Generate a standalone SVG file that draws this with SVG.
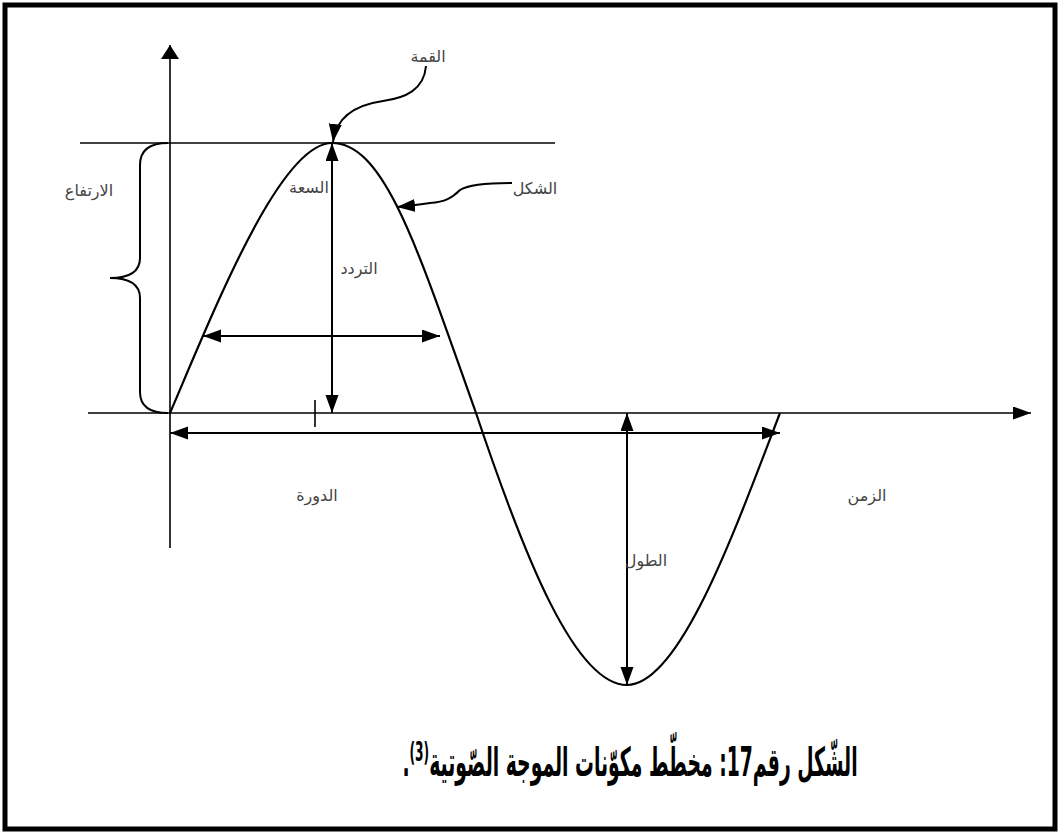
<svg xmlns="http://www.w3.org/2000/svg" width="1060" height="834" viewBox="0 0 1060 834">
<style>
.frame{fill:#fff;stroke:#000;stroke-width:5}
.ax{stroke:#000;stroke-width:1.6;fill:none}
.wave{stroke:#000;stroke-width:2.2;fill:none}
.arr{stroke:#000;stroke-width:2;fill:none}
.lbl{font-family:"DejaVu Sans",sans-serif;font-size:16px;fill:#444}
.cap{font-family:"DejaVu Sans",sans-serif;font-size:40px;font-weight:bold;fill:#000}
</style>
<defs>
<marker id="ah" markerUnits="userSpaceOnUse" markerWidth="20" markerHeight="14" refX="18" refY="6.5" orient="auto-start-reverse">
<path d="M0,0 L18,6.5 L0,13 z" fill="#000"/>
</marker>
<marker id="ahw" markerUnits="userSpaceOnUse" markerWidth="20" markerHeight="20" refX="14" refY="9" orient="auto">
<path d="M0,0 L14,9 L0,18 z" fill="#000"/>
</marker>
</defs>
<rect class="frame" x="5" y="5" width="1050" height="824"/>
<g id="axes">
<line class="ax" x1="170" y1="548" x2="170" y2="45" marker-end="url(#ahw)"/>
<line class="ax" x1="88" y1="413" x2="1031" y2="413" marker-end="url(#ah)"/>
<line class="ax" x1="80" y1="143" x2="555" y2="143"/>
<line class="ax" x1="315" y1="400" x2="315" y2="427" stroke-width="2"/>
</g>
<g id="wave">
<path class="wave" d="M170,413 C215,308 280,143 332,143 C385,143 418,250 476,413 C524,556 575,685 627,685 C680,685 735,530 780,413"/>
</g>
<g id="brace">
<path class="arr" d="M168,143 C150,143 140,150 140,165 L140,258 C140,272 130,278 110,278 C130,278 140,284 140,298 L140,392 C140,406 150,413 168,413"/>
</g>
<g id="connectors">
<line class="arr" x1="332" y1="143" x2="332" y2="413" marker-start="url(#ah)" marker-end="url(#ah)"/>
<line class="arr" x1="203" y1="336" x2="440" y2="336" marker-start="url(#ah)" marker-end="url(#ah)"/>
<line class="arr" x1="170" y1="433" x2="780" y2="433" marker-start="url(#ah)" marker-end="url(#ah)"/>
<line class="arr" x1="627" y1="413" x2="627" y2="685" marker-start="url(#ah)" marker-end="url(#ah)"/>
<path class="arr" d="M426,66 C424,90 405,98 383,101 C355,105 336,118 333,142" marker-end="url(#ah)"/>
<path class="arr" d="M512,183 C490,183 468,185 460,190 C452,198 445,202 430,203 C418,205 408,206 397,207" marker-end="url(#ah)"/>
</g>
<g id="labels">
<text id="peak" class="lbl" x="428" y="62" text-anchor="middle">القمة</text>
<text id="height" class="lbl" x="89" y="196" text-anchor="middle">الارتفاع</text>
<text id="amplitude" class="lbl" x="309" y="193" text-anchor="middle">السعة</text>
<text id="frequency" class="lbl" x="359" y="274" text-anchor="middle">التردد</text>
<text id="shape" class="lbl" x="535" y="194" text-anchor="middle">الشكل</text>
<text id="cycle" class="lbl" x="317" y="501" text-anchor="middle">الدورة</text>
<text id="length" class="lbl" x="646" y="566" text-anchor="middle">الطول</text>
<text id="time" class="lbl" x="867" y="501" text-anchor="middle">الزمن</text>
</g>
<g id="caption">
<text class="cap" transform="translate(630,776) scale(0.47,1)" x="0" y="0" direction="rtl" text-anchor="middle">الشّكل رقم17: مخطّط مكوّنات الموجة الصّوتية<tspan font-size="26" baseline-shift="super">(3)</tspan>.</text>
</g>
</svg>
